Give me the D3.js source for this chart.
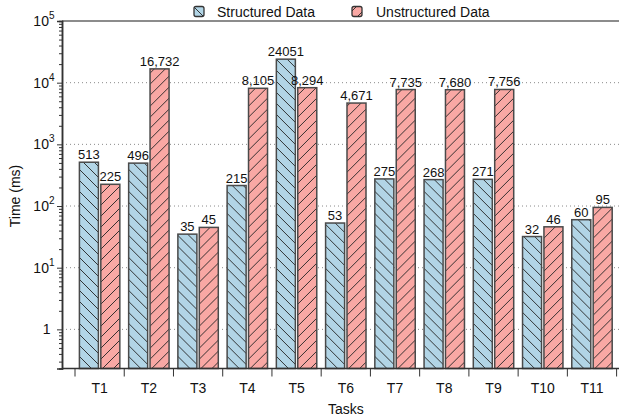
<!DOCTYPE html>
<html>
<head>
<meta charset="utf-8">
<script src="https://cdn.jsdelivr.net/npm/d3@7"></script>
<style>
  html, body { margin: 0; padding: 0; background: #fff; }
  svg { display: block; font-family: "Liberation Sans", Arial, sans-serif; }
</style>
</head>
<body>
<svg id="chart" width="619" height="419"></svg>
<script>
// Task timings (ms) for the two storage formats
const tasks = ["T1", "T2", "T3", "T4", "T5", "T6", "T7", "T8", "T9", "T10", "T11"];
const structuredMs = [513, 496, 35, 215, 24051, 53, 275, 268, 271, 32, 60];
const unstructuredMs = [225, 16732, 45, 8105, 8294, 4671, 7735, 7680, 7756, 46, 95];
const seriesNames = ["Structured Data", "Unstructured Data"];
const yMajorTicks = [1, 10, 100, 1000, 10000, 100000];

const svg = d3.select("#chart");
const W = 619, H = 419;
const plot = { left: 62, right: 619, top: 21, bottom: 368.5 };

const colors = { "Structured Data": "#b2d5e6", "Unstructured Data": "#f9a8a4" };
const hatchDir = { "Structured Data": "back", "Unstructured Data": "fwd" };

// Hatch patterns
const defs = svg.append("defs");
const hs = 11;
seriesNames.forEach((name, i) => {
  const p = defs.append("pattern")
    .attr("id", "hatch" + i)
    .attr("patternUnits", "userSpaceOnUse")
    .attr("width", hs).attr("height", hs);
  p.append("rect").attr("width", hs).attr("height", hs).attr("fill", colors[name]);
  const d = hatchDir[name] === "back"
    ? `M0,0L${hs},${hs}M${-hs/4},${3*hs/4}L${hs/4},${5*hs/4}M${3*hs/4},${-hs/4}L${5*hs/4},${hs/4}`
    : `M0,${hs}L${hs},0M${-hs/4},${hs/4}L${hs/4},${-hs/4}M${3*hs/4},${5*hs/4}L${5*hs/4},${3*hs/4}`;
  p.append("path").attr("d", d).attr("stroke", "#222").attr("stroke-width", 0.9).attr("fill", "none");
});

// Scales
const x = d3.scaleBand().domain(tasks).range([75, 616.6]).padding(0);
const xs = d3.scaleBand().domain(seriesNames).range([0, x.bandwidth()])
  .paddingInner(0.112).paddingOuter(0.206);
const y = d3.scaleLog().domain([0.232, 1e5]).range([plot.bottom, plot.top]);

// Grid lines at major decades
svg.append("g").selectAll("line")
  .data(yMajorTicks.slice(0, -1))
  .join("line")
  .attr("x1", plot.left).attr("x2", plot.right)
  .attr("y1", d => y(d)).attr("y2", d => y(d))
  .attr("stroke", "#8a8a8a").attr("stroke-width", 1)
  .attr("stroke-dasharray", "1,3");

// Bars
const rows = tasks.map((t, i) => ({ task: t, values: [
  { name: seriesNames[0], v: structuredMs[i], label: d3.format("d")(structuredMs[i]) },
  { name: seriesNames[1], v: unstructuredMs[i], label: d3.format(",")(unstructuredMs[i]) }
]}));

const groups = svg.append("g").selectAll("g")
  .data(rows).join("g")
  .attr("transform", d => `translate(${x(d.task)},0)`);

groups.selectAll("rect")
  .data(d => d.values).join("rect")
  .attr("x", d => xs(d.name))
  .attr("width", xs.bandwidth())
  .attr("y", d => y(d.v))
  .attr("height", d => plot.bottom - y(d.v))
  .attr("fill", d => `url(#hatch${seriesNames.indexOf(d.name)})`)
  .attr("stroke", "#4a4a4a").attr("stroke-width", 1.5);

groups.selectAll("text")
  .data(d => d.values).join("text")
  .attr("x", d => xs(d.name) + xs.bandwidth() / 2)
  .attr("y", d => y(d.v) - 3)
  .attr("text-anchor", "middle")
  .attr("font-size", 13).attr("fill", "#111")
  .text(d => d.label);

// Frame lines
svg.append("line").attr("x1", plot.left).attr("x2", plot.right)
  .attr("y1", plot.top).attr("y2", plot.top)
  .attr("stroke", "#666").attr("stroke-width", 1.6);

// Y axis: major and minor ticks
const minorTicks = [];
for (let e = -1; e <= 4; e++) {
  for (let m = 2; m <= 9; m++) {
    const v = m * Math.pow(10, e);
    if (v >= 0.232 && v < 1e5) minorTicks.push(v);
  }
}
const yMinor = svg.append("g").attr("transform", `translate(${plot.left},0)`)
  .call(d3.axisLeft(y).tickValues(minorTicks).tickSize(3).tickFormat(""));
const yMajor = svg.append("g").attr("transform", `translate(${plot.left},0)`)
  .call(d3.axisLeft(y).tickValues(yMajorTicks).tickSize(5).tickFormat(""));
[yMinor, yMajor].forEach(g => {
  g.select(".domain").attr("stroke", "#333").attr("stroke-width", 1.5);
  g.selectAll(".tick line").attr("stroke", "#333").attr("stroke-width", 1);
});

// Y tick labels as powers of ten
const yLab = svg.append("g").attr("font-size", 14).attr("fill", "#111");
yMajorTicks.forEach(v => {
  const e = Math.round(Math.log10(v));
  if (e === 0) {
    yLab.append("text").attr("x", 50.5).attr("y", y(v) + 5).attr("text-anchor", "end").text("1");
  } else {
    const t = yLab.append("text").attr("x", 54.5).attr("y", y(v) + 5).attr("text-anchor", "end");
    t.append("tspan").text("10");
    t.append("tspan").attr("dy", -7).attr("font-size", 10).text(String(e));
  }
});

// X axis with ticks on group boundaries
const xAxis = svg.append("g").attr("transform", `translate(0,${plot.bottom})`);
xAxis.append("line").attr("x1", plot.left).attr("x2", plot.right)
  .attr("stroke", "#333").attr("stroke-width", 1.5);
const bounds = tasks.map(t => x(t)).concat([x(tasks[tasks.length - 1]) + x.bandwidth()]);
xAxis.selectAll("line.tk").data(bounds).join("line").attr("class", "tk")
  .attr("x1", d => d).attr("x2", d => d).attr("y1", 0).attr("y2", 8)
  .attr("stroke", "#333").attr("stroke-width", 1);
xAxis.selectAll("text").data(tasks).join("text")
  .attr("x", d => x(d) + x.bandwidth() / 2).attr("y", 24)
  .attr("text-anchor", "middle").attr("font-size", 14).attr("fill", "#111")
  .text(d => d);

// Axis titles
svg.append("text").attr("x", (x.range()[0] + x.range()[1]) / 2).attr("y", 414)
  .attr("text-anchor", "middle").attr("font-size", 14).attr("fill", "#111").text("Tasks");
svg.append("text").attr("transform", "translate(20,196) rotate(-90)")
  .attr("text-anchor", "middle").attr("font-size", 14).attr("fill", "#111").text("Time (ms)");

// Legend
const legendPos = [{ px: 194, tx: 217 }, { px: 352, tx: 376 }];
seriesNames.forEach((name, i) => {
  svg.append("rect").attr("x", legendPos[i].px).attr("y", 6.5).attr("width", 10).attr("height", 10)
    .attr("rx", 2).attr("fill", `url(#hatch${i})`).attr("stroke", "#333").attr("stroke-width", 1.3);
  svg.append("text").attr("x", legendPos[i].tx).attr("y", 16.5)
    .attr("font-size", 14).attr("fill", "#111").text(name);
});
</script>
</body>
</html>
